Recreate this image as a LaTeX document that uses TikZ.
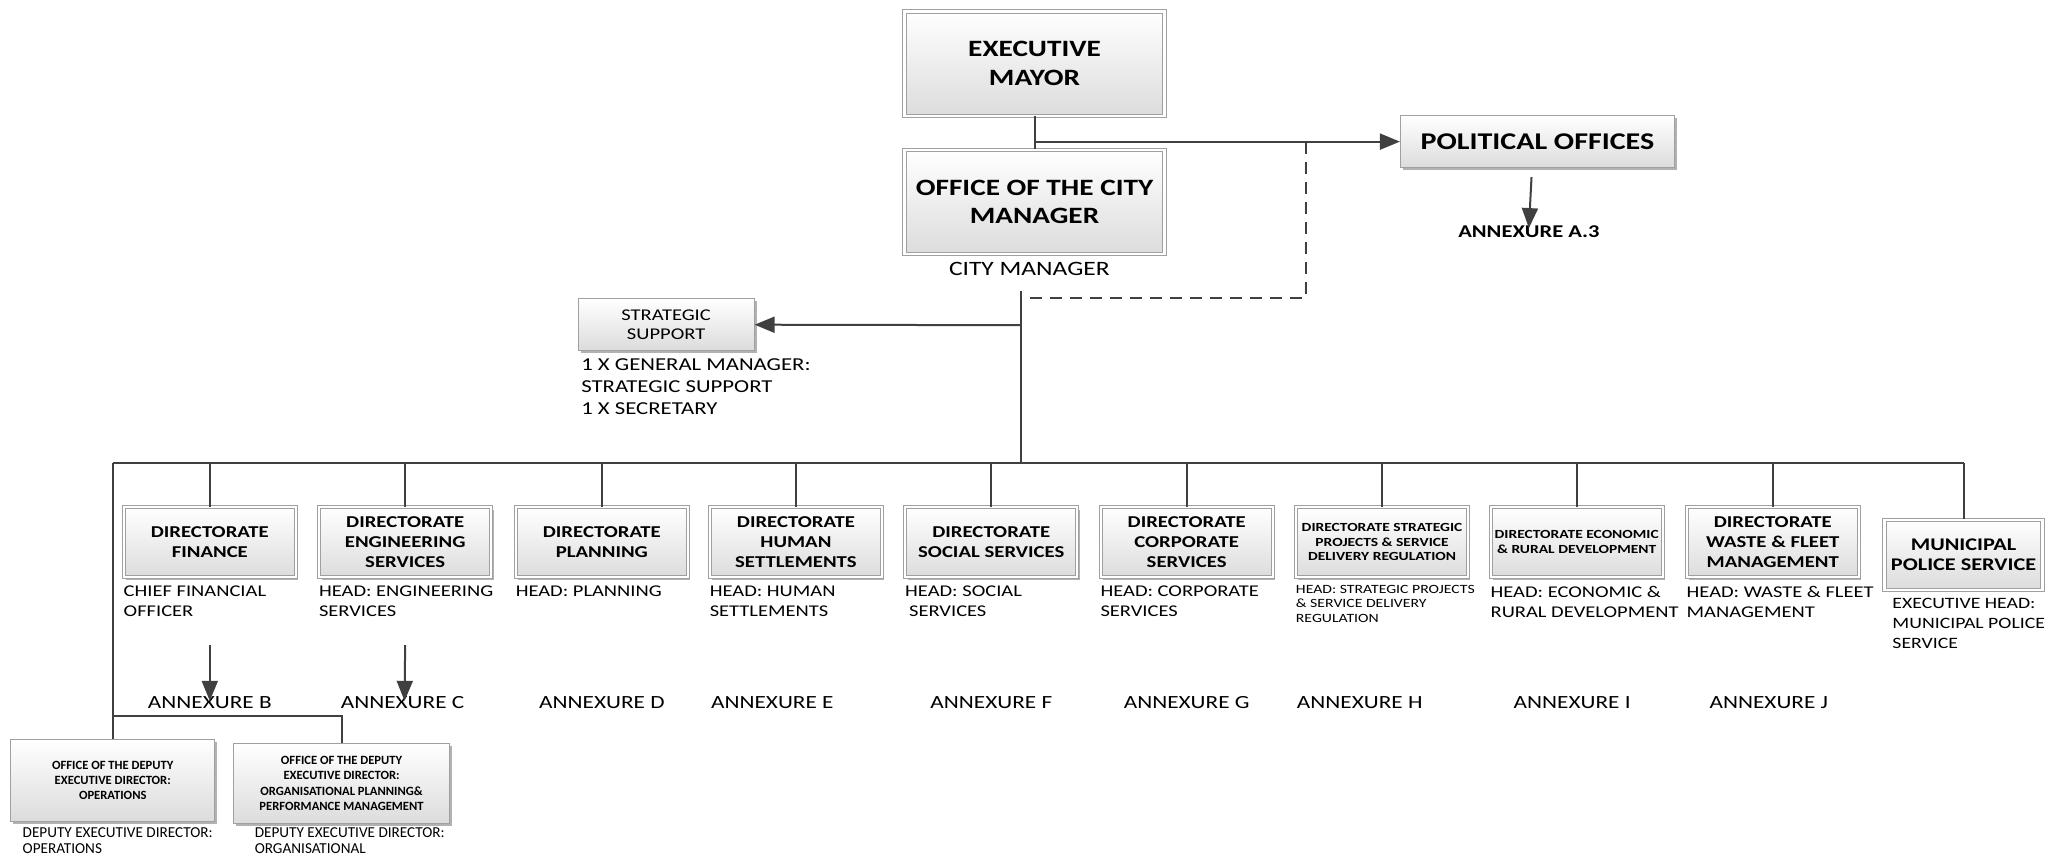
\documentclass[tikz,border=0pt]{standalone}
\usepackage{fontspec}
\setmainfont{Carlito}[FakeStretch=1.25]
\newfontfamily\plainfont{Carlito}
\usetikzlibrary{arrows.meta,shadows,positioning}
\definecolor{linegray}{RGB}{64,64,64}
\definecolor{boxline}{RGB}{160,160,160}
\definecolor{boxfill}{RGB}{220,220,220}
\begin{document}
\begin{tikzpicture}[x=0.6556pt,y=-0.6556pt,
    plainbox/.style={draw=boxline, line width=0.5pt, top color=white, bottom color=boxfill,
      align=center, inner sep=1pt,
      drop shadow={shadow xshift=1.2pt, shadow yshift=-1.2pt, opacity=0.3, fill=black}},
    dblbox/.style={plainbox, double=white, double distance=1.1pt},
    bigbox/.style={dblbox, minimum width=130pt, minimum height=52pt,
      font=\fontsize{11.7}{14.3}\selectfont\bfseries},
    dirbox/.style={dblbox, minimum width=86pt, minimum height=35pt,
      font=\fontsize{8.3}{9.8}\selectfont\bfseries},
    headtext/.style={anchor=north west, align=left, inner sep=0pt,
      font=\fontsize{8.2}{9.9}\selectfont},
    annex/.style={font=\fontsize{9.3}{11}\selectfont},
    link/.style={draw=linegray, line width=1pt},
    arr/.style={link, -{Triangle[length=10pt, width=8pt]}}]
  \useasboundingbox (0,0) rectangle (1568,654);

  % top of the chart
  \node[bigbox] (mayor) at (789,48.5) {EXECUTIVE\\MAYOR};
  \node[bigbox] (cm) at (789,154) {OFFICE OF THE CITY\\MANAGER};
  \node[font=\fontsize{10.2}{12}\selectfont] (cmname) at (785,205) {CITY MANAGER};
  \node[plainbox, minimum width=137pt, minimum height=26pt,
    font=\fontsize{12}{14}\selectfont\bfseries] (pol) at (1172.5,108) {POLITICAL OFFICES};
  \node[font=\fontsize{9}{11}\selectfont\bfseries] (annA) at (1166,177) {ANNEXURE A.3};
  \node[plainbox, minimum width=88pt, minimum height=25.6pt,
    font=\fontsize{8.2}{9.8}\selectfont] (ss) at (508,247.5) {STRATEGIC\\SUPPORT};
  \node[headtext, font=\fontsize{9.1}{10.8}\selectfont] (ssh) at (443,273.5)
    {1 X GENERAL MANAGER:\\STRATEGIC SUPPORT\\1 X SECRETARY};

  % directorates
  \node[dirbox] (fin) at (160,413.5) {DIRECTORATE\\FINANCE};
  \node[dirbox] (eng) at (309,413.5) {DIRECTORATE\\ENGINEERING\\SERVICES};
  \node[dirbox] (pln) at (459,413.5) {DIRECTORATE\\PLANNING};
  \node[dirbox] (hs) at (607,413.5) {DIRECTORATE\\HUMAN\\SETTLEMENTS};
  \node[dirbox] (soc) at (756,413.5) {DIRECTORATE\\SOCIAL SERVICES};
  \node[dirbox] (corp) at (905,413.5) {DIRECTORATE\\CORPORATE\\SERVICES};
  \node[dirbox, font=\fontsize{6.2}{7.2}\selectfont\bfseries] (spr) at (1054,413.5)
    {DIRECTORATE STRATEGIC\\PROJECTS \& SERVICE\\DELIVERY REGULATION};
  \node[dirbox, font=\fontsize{6.2}{7.6}\selectfont\bfseries] (eco) at (1202.5,413.5)
    {DIRECTORATE ECONOMIC\\\& RURAL DEVELOPMENT};
  \node[dirbox] (wf) at (1352,413.5) {DIRECTORATE\\WASTE \& FLEET\\MANAGEMENT};
  \node[dirbox, minimum width=79pt, font=\fontsize{8.9}{10.2}\selectfont\bfseries] (police)
    at (1497.5,423) {MUNICIPAL\\POLICE SERVICE};

  % heads below the boxes
  \node[headtext] (finh) at ([yshift=-4pt]fin.south west) {CHIEF FINANCIAL\\OFFICER};
  \node[headtext] (engh) at ([yshift=-4pt]eng.south west) {HEAD: ENGINEERING\\SERVICES};
  \node[headtext] (plnh) at ([yshift=-4pt]pln.south west) {HEAD: PLANNING};
  \node[headtext] (hsh) at ([yshift=-4pt]hs.south west) {HEAD: HUMAN\\SETTLEMENTS};
  \node[headtext] (soch) at ([yshift=-4pt]soc.south west) {HEAD: SOCIAL\\\hspace*{2pt}SERVICES};
  \node[headtext] (corph) at ([yshift=-4pt]corp.south west) {HEAD: CORPORATE\\SERVICES};
  \node[headtext, font=\fontsize{6.3}{7.3}\selectfont] (sprh) at ([yshift=-3.5pt]spr.south west)
    {HEAD: STRATEGIC PROJECTS\\\& SERVICE DELIVERY\\REGULATION};
  \node[headtext] (ecoh) at ([yshift=-4pt]eco.south west) {HEAD: ECONOMIC \&\\RURAL DEVELOPMENT};
  \node[headtext] (wfh) at ([yshift=-4pt]wf.south west) {HEAD: WASTE \& FLEET\\MANAGEMENT};
  \node[headtext, font=\fontsize{7.9}{9.9}\selectfont] (policeh)
    at ([xshift=4pt,yshift=-4pt]police.south west)
    {EXECUTIVE HEAD:\\MUNICIPAL POLICE\\SERVICE};

  % annexures
  \node[annex] (annB) at (160,536) {ANNEXURE B};
  \node[annex] (annC) at (307,536) {ANNEXURE C};
  \node[annex] (annD) at (459,536) {ANNEXURE D};
  \node[annex] (annE) at (589,536) {ANNEXURE E};
  \node[annex] (annF) at (756,536) {ANNEXURE F};
  \node[annex] (annG) at (905,536) {ANNEXURE G};
  \node[annex] (annH) at (1037,536) {ANNEXURE H};
  \node[annex] (annI) at (1199,536) {ANNEXURE I};
  \node[annex] (annJ) at (1349,536) {ANNEXURE J};

  % deputy offices
  \node[plainbox, minimum width=102pt, minimum height=41pt,
    font=\plainfont\fontsize{6.3}{7.4}\selectfont\bfseries] (op) at (86,595)
    {OFFICE OF THE DEPUTY\\EXECUTIVE DIRECTOR:\\OPERATIONS};
  \node[plainbox, minimum width=108pt, minimum height=40pt,
    font=\plainfont\fontsize{6.3}{7.6}\selectfont\bfseries] (opm) at (260.5,597.5)
    {OFFICE OF THE DEPUTY\\EXECUTIVE DIRECTOR:\\ORGANISATIONAL PLANNING\&\\PERFORMANCE MANAGEMENT};
  \node[headtext, font=\plainfont\fontsize{7.6}{8.2}\selectfont] (oph) at (17,630.5)
    {DEPUTY EXECUTIVE DIRECTOR:\\OPERATIONS};
  \node[headtext, font=\plainfont\fontsize{7.6}{8.2}\selectfont] (opmh) at (194,630.5)
    {DEPUTY EXECUTIVE DIRECTOR:\\ORGANISATIONAL};

  % connectors
  \coordinate (j1) at (789,108);
  \coordinate (d1) at (996,108);
  \coordinate (d2) at (779,227);
  \coordinate (c1) at (779,222);
  \coordinate (c2) at (779,248);
  \coordinate (busL) at (86,353);
  \coordinate (busR) at (1497.5,353);
  \coordinate (busM) at (779,353);
  \coordinate (b1) at (86,546);
  \coordinate (finA) at (160,492);
  \coordinate (engA) at (309,492);
  \coordinate (polA) at (1168,135);

  \draw[link] (mayor) -- (cm);
  \draw[arr] (j1) -- (pol);
  \draw[arr] (polA) -- ([yshift=2pt]annA.center);
  \draw[link, dash pattern=on 6pt off 4pt] (d1) |- (d2);
  \draw[link] (c1) -- (busM);
  \draw[arr] (c2) -- (ss);
  \draw[link] (busL) -- (busR);
  \foreach \n in {fin,eng,pln,hs,soc,corp,spr,eco,wf,police}
    \draw[link] (\n.north) -- (\n.north |- busL);
  \draw[link] (busL) -- (op.north);
  \draw[link] (b1) -| (opm.north);
  \draw[arr] (finA) -- ([yshift=1pt]annB.center);
  \draw[arr] (engA) -- ([yshift=1pt,xshift=1pt]annC.center);
\end{tikzpicture}
\end{document}
